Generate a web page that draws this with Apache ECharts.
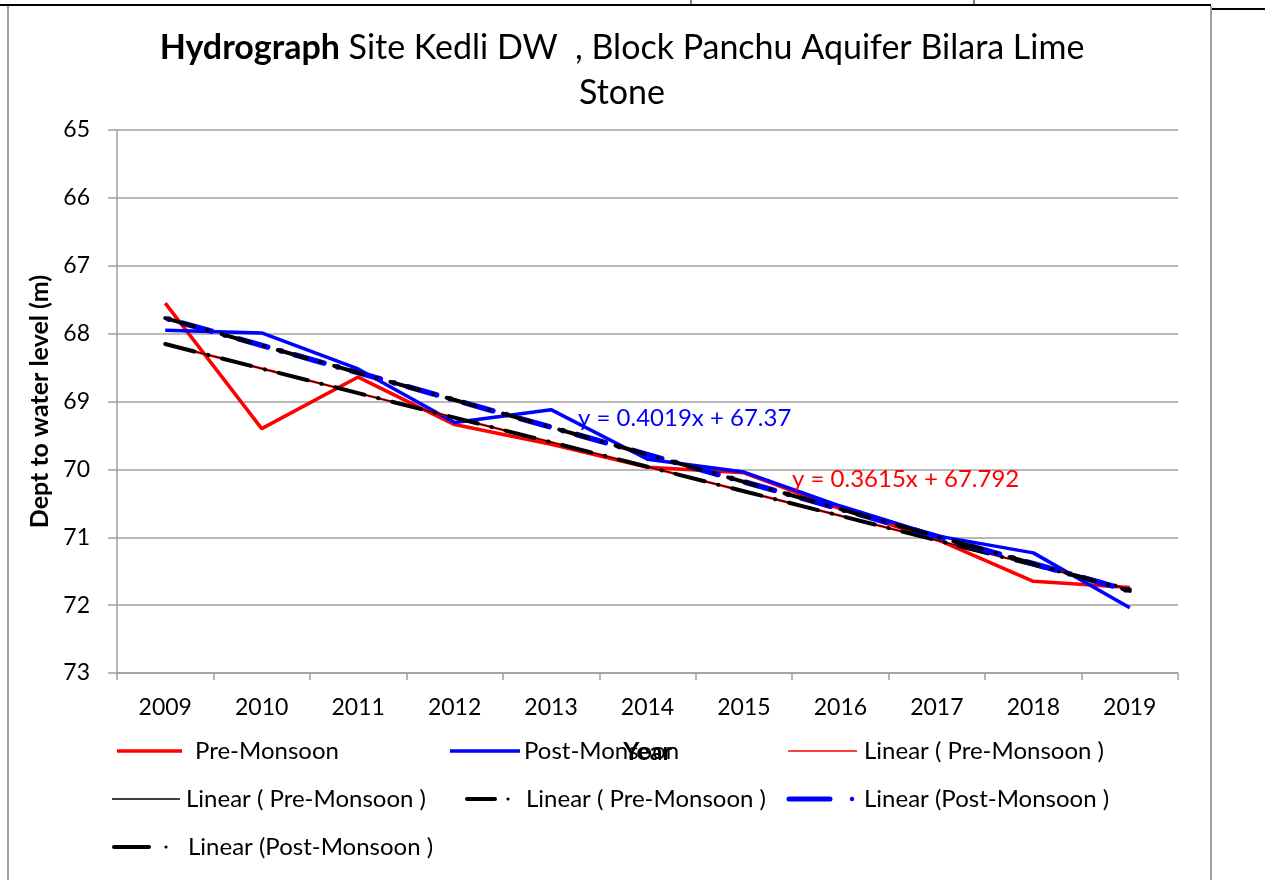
<!DOCTYPE html>
<html>
<head>
<meta charset="utf-8">
<script src="https://cdn.jsdelivr.net/npm/echarts@6/dist/echarts.min.js"></script>
<style>
  html, body { margin: 0; padding: 0; background: #fff; }
  #chart { width: 1265px; height: 880px; }
</style>
</head>
<body>
<div id="chart"></div>
<script>
// Depth to water level (m) at Kedli DW, Block Panchu
const years = ['2009', '2010', '2011', '2012', '2013', '2014', '2015', '2016', '2017', '2018', '2019'];
const preMonsoon = [67.55, 69.40, 68.64, 69.34, 69.63, 69.97, 70.05, 70.58, 71.03, 71.65, 71.74];
const postMonsoon = [67.95, 67.99, 68.52, 69.31, 69.12, 69.85, 70.04, 70.54, 70.98, 71.23, 72.04];

// Linear trend coefficients (y = slope * x + intercept, x = 1 for the first year)
const preTrend = { slope: 0.3615, intercept: 67.792 };
const postTrend = { slope: 0.4019, intercept: 67.37 };

const FONT = 'Lato';
const LEGEND_FONT = '24px ' + FONT;

function trendValues(t) {
  return years.map((_, i) => +(t.slope * (i + 1) + t.intercept).toFixed(4));
}
const preTrendLine = trendValues(preTrend);
const postTrendLine = trendValues(postTrend);

function eqText(t) {
  return 'y = ' + t.slope + 'x + ' + t.intercept;
}

const dashDot = [30, 14, 0.5, 14];

function lineSeries(name, data, style, z) {
  return {
    name: name,
    type: 'line',
    data: data,
    symbol: 'none',
    z: z,
    silent: true,
    lineStyle: style
  };
}

// Legend entries drawn as graphics (three rows like the original sheet)
function legendItem(x, y, text, line, dot) {
  const children = [{
    type: 'line',
    shape: { x1: line.x1 - x, y1: 0, x2: line.x2 - x, y2: 0 },
    style: { stroke: line.color, lineWidth: line.width, lineCap: line.cap || 'butt' }
  }];
  if (dot) {
    children.push({
      type: 'circle',
      shape: { cx: dot.x - x, cy: 0, r: dot.r },
      style: { fill: line.color }
    });
  }
  children.push({
    type: 'text',
    x: line.textX - x,
    y: 0,
    style: { text: text, font: LEGEND_FONT, fill: '#000', verticalAlign: 'middle' }
  });
  return { type: 'group', x: x, y: y, children: children };
}

const legendGraphics = [
  legendItem(117, 751, 'Pre-Monsoon', { x1: 117, x2: 182, color: '#ff0000', width: 3.5, textX: 195 }),
  legendItem(450, 751, 'Post-Monsoon', { x1: 450, x2: 520, color: '#0000ff', width: 3.5, textX: 524 }),
  legendItem(788, 751, 'Linear ( Pre-Monsoon )', { x1: 788, x2: 857, color: '#ff0000', width: 1.5, textX: 864 }),
  legendItem(112, 799, 'Linear ( Pre-Monsoon )', { x1: 112, x2: 180, color: '#000000', width: 1.5, textX: 186 }),
  legendItem(465, 799, 'Linear ( Pre-Monsoon )', { x1: 467, x2: 495, color: '#000000', width: 4, cap: 'round', textX: 526 }, { x: 508, r: 1.6 }),
  legendItem(787, 799, 'Linear (Post-Monsoon )', { x1: 789, x2: 830, color: '#0000ff', width: 5, cap: 'round', textX: 864 }, { x: 852, r: 2.2 }),
  legendItem(112, 847, 'Linear (Post-Monsoon )', { x1: 114, x2: 149, color: '#000000', width: 4, cap: 'round', textX: 188 }, { x: 166, r: 1.6 })
];

// Page frame around the chart
const frameGraphics = [
  { type: 'line', shape: { x1: 0, y1: 5, x2: 1211, y2: 5 }, style: { stroke: '#000', lineWidth: 2 } },
  { type: 'line', shape: { x1: 1211, y1: 9, x2: 1265, y2: 9 }, style: { stroke: '#000', lineWidth: 2 } },
  { type: 'line', shape: { x1: 691, y1: 0, x2: 691, y2: 5 }, style: { stroke: '#000', lineWidth: 1 } },
  { type: 'line', shape: { x1: 974, y1: 0, x2: 974, y2: 5 }, style: { stroke: '#000', lineWidth: 1 } },
  { type: 'line', shape: { x1: 8, y1: 6, x2: 8, y2: 880 }, style: { stroke: '#a0a0a0', lineWidth: 2 } },
  { type: 'line', shape: { x1: 1211, y1: 6, x2: 1211, y2: 880 }, style: { stroke: '#a0a0a0', lineWidth: 2 } }
];

// Two-line chart title
const titleGraphics = [
  {
    type: 'text', x: 622, y: 48, z: 20,
    style: {
      text: '{b|Hydrograph}{n| Site Kedli DW  , Block Panchu Aquifer Bilara Lime}',
      align: 'center', verticalAlign: 'middle',
      rich: {
        b: { font: 'bold 34px ' + FONT, fill: '#000' },
        n: { font: '34px ' + FONT, fill: '#000' }
      }
    }
  },
  {
    type: 'text', x: 622, y: 93, z: 20,
    style: { text: 'Stone', font: '34px ' + FONT, fill: '#000', align: 'center', verticalAlign: 'middle' }
  }
];

const chart = echarts.init(document.getElementById('chart'), null, { renderer: 'canvas' });

const option = {
  animation: false,
  backgroundColor: '#fff',
  textStyle: { fontFamily: FONT },
  grid: { left: 117, right: 87, top: 130, bottom: 207, containLabel: false },
  xAxis: {
    type: 'category',
    data: years,
    boundaryGap: true,
    name: 'Year',
    nameLocation: 'middle',
    nameGap: 66,
    nameTextStyle: { fontFamily: FONT, fontSize: 25, fontWeight: 'bold', color: '#000' },
    axisLine: { onZero: false, lineStyle: { color: '#a0a0a0', width: 1.5 } },
    axisTick: { show: true, alignWithLabel: false, interval: 0, length: 7, lineStyle: { color: '#a0a0a0', width: 1.5 } },
    axisLabel: { interval: 0, margin: 23, fontFamily: FONT, fontSize: 23, color: '#000' },
    splitLine: { show: false }
  },
  yAxis: {
    type: 'value',
    inverse: true,
    min: 65,
    max: 73,
    interval: 1,
    name: 'Dept to water level (m)',
    nameLocation: 'middle',
    nameGap: 62,
    nameRotate: 90,
    nameTextStyle: { fontFamily: FONT, fontSize: 25, fontWeight: 'bold', color: '#000' },
    axisLine: { show: true, lineStyle: { color: '#a0a0a0', width: 1.5 } },
    axisTick: { show: true, length: 9, lineStyle: { color: '#a0a0a0', width: 1.5 } },
    axisLabel: { margin: 27, fontFamily: FONT, fontSize: 23, color: '#000' },
    splitLine: { show: true, lineStyle: { color: '#a0a0a0', width: 1.5 } }
  },
  series: [
    lineSeries('Pre-Monsoon', preMonsoon, { color: '#ff0000', width: 3.5 }, 2),
    lineSeries('Post-Monsoon', postMonsoon, { color: '#0000ff', width: 3.5 }, 3),
    lineSeries('Linear ( Pre-Monsoon )', preTrendLine, { color: '#ff0000', width: 2.5 }, 4),
    lineSeries('Linear ( Pre-Monsoon ) ', preTrendLine, { color: '#000000', width: 1 }, 5),
    lineSeries('Linear ( Pre-Monsoon )  ', preTrendLine, { color: '#000000', width: 4, type: dashDot, cap: 'round' }, 6),
    lineSeries('Linear (Post-Monsoon )', postTrendLine, { color: '#0000ff', width: 5.5, type: dashDot, cap: 'round', dashOffset: -18 }, 7),
    lineSeries('Linear (Post-Monsoon ) ', postTrendLine, { color: '#000000', width: 4, type: dashDot, cap: 'round' }, 8)
  ],
  graphic: [].concat(frameGraphics, titleGraphics, legendGraphics, [
    { type: 'text', x: 578, y: 418, z: 20, style: { text: eqText(postTrend), font: '24px ' + FONT, fill: '#0000ff', verticalAlign: 'middle' } },
    { type: 'text', x: 792, y: 479, z: 20, style: { text: eqText(preTrend), font: '24px ' + FONT, fill: '#ff0000', verticalAlign: 'middle' } }
  ])
};

chart.setOption(option);
</script>
</body>
</html>
